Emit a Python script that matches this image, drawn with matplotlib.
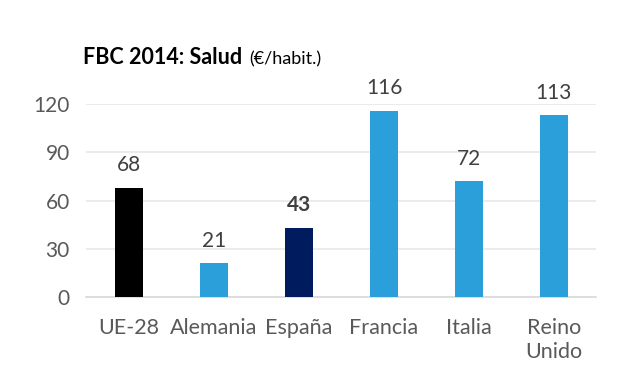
import matplotlib.pyplot as plt

plt.rcParams['font.family'] = ['Lato', 'DejaVu Sans']

categories = ["UE-28", "Alemania", "España", "Francia", "Italia", "Reino\nUnido"]
values = [68, 21, 43, 116, 72, 113]
colors = ["#000000", "#2A9FDA", "#001C5F", "#2A9FDA", "#2A9FDA", "#2A9FDA"]
yticks = [0, 30, 60, 90, 120]

fig = plt.figure(figsize=(6.2, 3.68), dpi=100)
ax = fig.add_axes([0.1395, 0.193, 0.8225, 0.524])

x = range(len(categories))
ax.bar(x, values, width=0.33, color=colors, zorder=3)

for i, v in enumerate(values):
    weight = "bold" if categories[i] == "España" else "normal"
    ax.annotate(str(v), (i, v), xytext=(0, 9), textcoords="offset points",
                ha="center", va="bottom", fontsize=15, color="#404040",
                fontweight=weight)

ax.set_xlim(-0.5, len(categories) - 0.5)
ax.set_ylim(0, 120)
ax.set_yticks(yticks)
ax.set_xticks(list(x))
ax.set_xticklabels(categories, fontsize=15.5, color="#595959", linespacing=1.25, va="top")
ax.tick_params(axis="y", labelsize=15, labelcolor="#595959", length=0, pad=12)
ax.tick_params(axis="x", length=0, pad=15)
ax.grid(axis="y", color="#E8E8E8", linewidth=1.2, zorder=0)
for s in ["top", "right", "left"]:
    ax.spines[s].set_visible(False)
ax.spines["bottom"].set_color("#D9D9D9")
ax.spines["bottom"].set_linewidth(1.2)

t = fig.text(0.134, 0.825, "FBC 2014: Salud", fontsize=15.5, fontweight="bold", color="#000000")
fig.canvas.draw()
bb = t.get_window_extent().transformed(fig.transFigure.inverted())
fig.text(bb.x1 + 0.012, 0.825, "(€/habit.)", fontsize=13, color="#000000")

fig.savefig("out.png", dpi=100, facecolor="white")
